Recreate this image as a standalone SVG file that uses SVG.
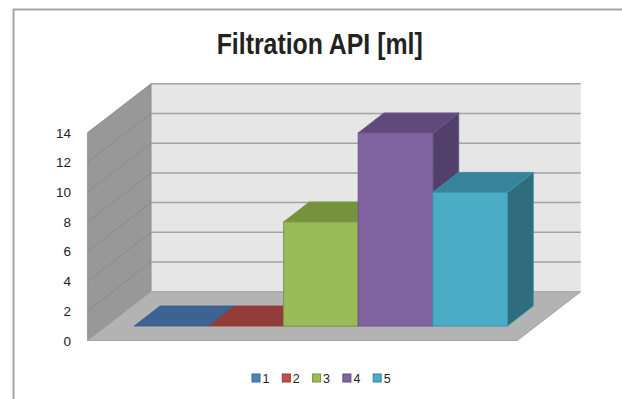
<svg xmlns="http://www.w3.org/2000/svg" width="622" height="399" viewBox="0 0 622 399">
<style>
.t{font-family:"Liberation Sans",Arial,sans-serif;fill:#222}
.ax{font-size:13.5px;text-anchor:end}
.lg{font-size:12.5px}
.grid{stroke:#a3a3a3;stroke-width:1.5;fill:none}
.sgrid{stroke:#8a8a8a;stroke-width:1;fill:none}
</style>
<rect x="0" y="0" width="622" height="399" fill="#ffffff"/>
<rect x="13.5" y="9.5" width="700" height="500" fill="#ffffff" stroke="#a6a6a6" stroke-width="2"/>
<text id="title" class="t" x="319.7" y="54" font-size="29" font-weight="bold" text-anchor="middle" textLength="206" lengthAdjust="spacingAndGlyphs" fill="#111">Filtration API [ml]</text>

<g id="walls">
  <rect x="151" y="83.8" width="429.7" height="207.9" fill="#e6e6e6"/>
  <g class="grid">
    <line x1="151" y1="262" x2="580.7" y2="262"/>
    <line x1="151" y1="232.3" x2="580.7" y2="232.3"/>
    <line x1="151" y1="202.6" x2="580.7" y2="202.6"/>
    <line x1="151" y1="172.9" x2="580.7" y2="172.9"/>
    <line x1="151" y1="143.2" x2="580.7" y2="143.2"/>
    <line x1="151" y1="113.5" x2="580.7" y2="113.5"/>
    <line x1="151" y1="83.8" x2="580.7" y2="83.8"/>
  </g>
  <polygon points="87.7,340.5 87.7,132.6 151,83.8 151,291.7" fill="#989898" stroke="#8e8e8e" stroke-width="1"/>
  <g class="sgrid">
    <line x1="87.7" y1="310.8" x2="151" y2="262"/>
    <line x1="87.7" y1="281.1" x2="151" y2="232.3"/>
    <line x1="87.7" y1="251.4" x2="151" y2="202.6"/>
    <line x1="87.7" y1="221.7" x2="151" y2="172.9"/>
    <line x1="87.7" y1="192" x2="151" y2="143.2"/>
    <line x1="87.7" y1="162.3" x2="151" y2="113.5"/>
  </g>
</g>

<g id="floor">
  <polygon points="87.7,340.5 517.3,340.5 580.7,291.7 151,291.7" fill="#b3b3b3" stroke="#a2a2a2" stroke-width="1"/>
</g>

<g id="bar1">
  <polygon points="134.3,326 208.9,326 234.7,306 160.1,306" fill="#3d6393" stroke="#375a87" stroke-width="0.8"/>
</g>
<g id="bar2">
  <polygon points="208.9,326 283.6,326 309.4,306 234.7,306" fill="#943c3a" stroke="#8a3735" stroke-width="0.8"/>
</g>
<g id="bar3" stroke="#7e9c47" stroke-width="1">
  <polygon points="283.6,326 358.2,326 384,306 384,202 358.2,222" fill="#637a32"/>
  <polygon points="283.6,222 358.2,222 384,202 309.4,202" fill="#76923c"/>
  <rect x="283.6" y="222" width="74.6" height="104" fill="#9bbb59"/>
</g>
<g id="bar4" stroke="#6c5589" stroke-width="1">
  <polygon points="432.9,326 432.9,133 458.7,113 458.7,306" fill="#52406a"/>
  <polygon points="358.2,133 432.9,133 458.7,113 384,113" fill="#604a7b"/>
  <rect x="358.2" y="133" width="74.7" height="193" fill="#8064a2"/>
</g>
<g id="bar5" stroke="#3f94ab" stroke-width="1">
  <polygon points="507.5,326 507.5,192.4 533.3,172.4 533.3,306" fill="#2f6c7e"/>
  <polygon points="432.9,192.4 507.5,192.4 533.3,172.4 458.7,172.4" fill="#37849a"/>
  <rect x="432.9" y="192.4" width="74.6" height="133.6" fill="#4bacc6"/>
</g>

<g id="axis-labels">
  <text class="t ax" x="71" y="345.5">0</text>
  <text class="t ax" x="71" y="315.8">2</text>
  <text class="t ax" x="71" y="286.1">4</text>
  <text class="t ax" x="71" y="256.4">6</text>
  <text class="t ax" x="71" y="226.7">8</text>
  <text class="t ax" x="71" y="197">10</text>
  <text class="t ax" x="71" y="167.3">12</text>
  <text class="t ax" x="71" y="137.6">14</text>
</g>

<g id="legend" stroke-width="1">
  <g id="legend1"><rect x="252" y="374" width="8" height="8" fill="#4f81bd" stroke="#3a6595"/><text class="t lg" x="262.5" y="383">1</text></g>
  <g id="legend2"><rect x="282.3" y="374" width="8" height="8" fill="#c0504d" stroke="#953b39"/><text class="t lg" x="292.8" y="383">2</text></g>
  <g id="legend3"><rect x="312.6" y="374" width="8" height="8" fill="#9bbb59" stroke="#76923c"/><text class="t lg" x="323.1" y="383">3</text></g>
  <g id="legend4"><rect x="342.9" y="374" width="8" height="8" fill="#8064a2" stroke="#5f4a7a"/><text class="t lg" x="353.4" y="383">4</text></g>
  <g id="legend5"><rect x="373.2" y="374" width="8" height="8" fill="#4bacc6" stroke="#31859c"/><text class="t lg" x="383.7" y="383">5</text></g>
</g>
<g id="connectors"/>
</svg>
